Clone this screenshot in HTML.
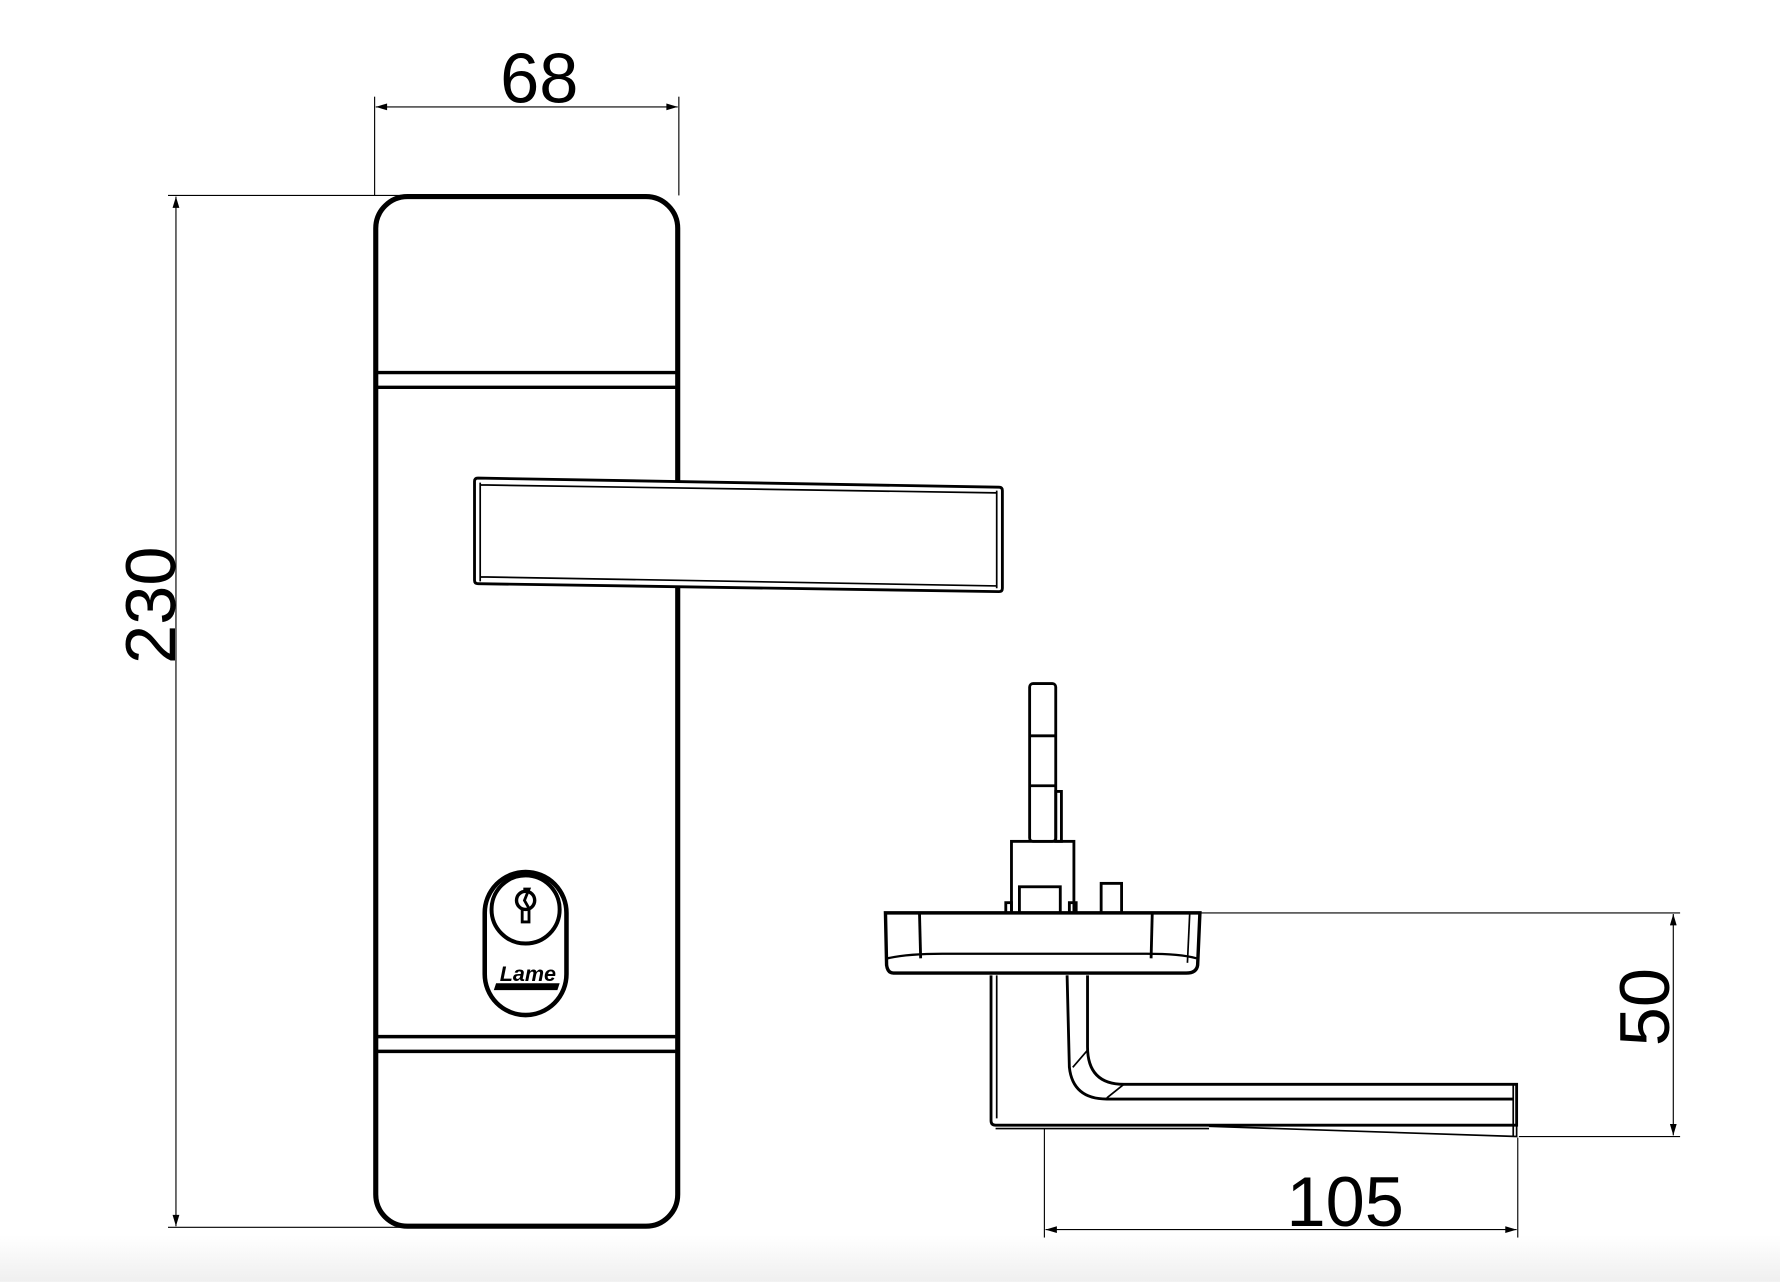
<!DOCTYPE html>
<html><head><style>html,body{margin:0;padding:0;background:#fff}svg{display:block}</style></head>
<body>
<svg width="1780" height="1282" viewBox="0 0 1568 1129" xmlns="http://www.w3.org/2000/svg">
<defs>
<linearGradient id="g" x1="0" y1="0" x2="0" y2="1"><stop offset="0" stop-color="#fff"/><stop offset="1" stop-color="#efefef"/></linearGradient>
<marker id="a" viewBox="0 0 10 6" refX="10" refY="3" markerWidth="20" markerHeight="6" markerUnits="userSpaceOnUse" orient="auto-start-reverse"><path d="M0,0L10,3L0,6z" fill="#000"/></marker>
</defs>
<rect x="0" y="1088" width="1568" height="41" fill="url(#g)"/>
<g fill="none" stroke="#000">
<g stroke-width="1">
<line x1="330" y1="85" x2="330" y2="172"/><line x1="598" y1="85" x2="598" y2="172"/>
<line x1="331" y1="94" x2="597" y2="94" marker-start="url(#a)" marker-end="url(#a)"/>
<line x1="148" y1="172" x2="360" y2="172"/><line x1="148" y1="1081" x2="360" y2="1081"/>
<line x1="155" y1="173" x2="155" y2="1080" marker-start="url(#a)" marker-end="url(#a)"/>
</g>
<rect x="331" y="173" width="266" height="907" rx="28" stroke-width="4.5"/>
<g stroke-width="3">
<line x1="333" y1="328" x2="595" y2="328"/><line x1="333" y1="341" x2="595" y2="341"/>
<line x1="333" y1="913" x2="595" y2="913"/><line x1="333" y1="926" x2="595" y2="926"/>
</g>
<path d="M421,421 L880,429 Q883,429 883,432 L883,518 Q883,521 880,521 L421,514 Q418,514 418,511 L418,424 Q418,421 421,421Z" fill="#fff" stroke-width="2.5"/>
<path d="M423,427 L878,434 M423,508 L878,516 M423,425 L423,512 M878,432 L878,518" stroke-width="1.5"/>
<path d="M427,804 A36,36 0 0 1 499,804 L499,858 A36,36 0 0 1 427,858 Z" stroke-width="4"/>
<circle cx="463" cy="801" r="30" stroke-width="3.5"/>
<circle cx="463" cy="793" r="8" stroke-width="3"/>
<path d="M461,783 L466,783 L462,793 L466,800 L466,812 L460,812 L460,800" stroke-width="2.5"/>
</g>
<text x="465" y="864" font-family="Liberation Sans, sans-serif" font-weight="bold" font-style="italic" font-size="19" text-anchor="middle" fill="#000">Lame</text>
<path d="M437,866 L493,866 L491,872 L435,872Z" fill="#000"/>
<g fill="none" stroke="#000">
<g stroke-width="2.5">
<rect x="907" y="602" width="23" height="139" rx="3"/>
<line x1="907" y1="648" x2="930" y2="648"/><line x1="907" y1="692" x2="930" y2="692"/>
<rect x="930" y="697" width="5" height="44"/>
<rect x="891" y="741" width="55" height="63"/>
<rect x="898" y="781" width="36" height="23"/>
<rect x="970" y="778" width="18" height="26"/>
<rect x="886" y="795" width="5" height="9"/><rect x="942" y="795" width="6" height="9"/>
<path d="M780,804 L1057,804 L1055,850 Q1054,857 1045,857 L787,857 Q782,857 781,850 Z" stroke-width="3"/>
<line x1="810" y1="805" x2="811" y2="844"/><line x1="1015" y1="805" x2="1014" y2="844"/>
<path d="M782,844 Q800,840 830,840 L1010,840 Q1040,840 1054,844" stroke-width="2"/>
<path d="M1048,805 L1046,848" stroke-width="1.5"/>
<path d="M873,859 L873,987 Q873,991 877,991 L1336,991 L1336,955 L990,955 Q958,955 958,922 L958,859" />
<path d="M878,859 L878,985" stroke-width="1.5"/>
<path d="M940,859 L942,940 Q945,968 975,968 L1333,968" />
<path d="M945,940 L958,925 M975,967 L990,955" stroke-width="1.5"/>
<path d="M1333,955 L1333,1001 M1336,991 L1336,1001 L1065,992" stroke-width="1.5"/>
<line x1="877" y1="994" x2="1065" y2="994" stroke-width="1.5"/>
</g>
<g stroke-width="1">
<line x1="1058" y1="804" x2="1480" y2="804"/>
<line x1="1338" y1="1001" x2="1480" y2="1001"/>
<line x1="1474" y1="805" x2="1474" y2="1000" marker-start="url(#a)" marker-end="url(#a)"/>
<line x1="920" y1="994" x2="920" y2="1090"/><line x1="1337" y1="1002" x2="1337" y2="1090"/>
<line x1="921" y1="1083" x2="1336" y2="1083" marker-start="url(#a)" marker-end="url(#a)"/>
</g>
</g>
<g font-family="Liberation Sans, sans-serif" font-size="62" fill="#000" text-anchor="middle">
<text x="475" y="90">68</text>
<text x="1185" y="1080">105</text>
<text transform="translate(154 533) rotate(-90)" x="0" y="0">230</text>
<text transform="translate(1470 887) rotate(-90)" x="0" y="0">50</text>
</g>
</svg>
</body></html>
